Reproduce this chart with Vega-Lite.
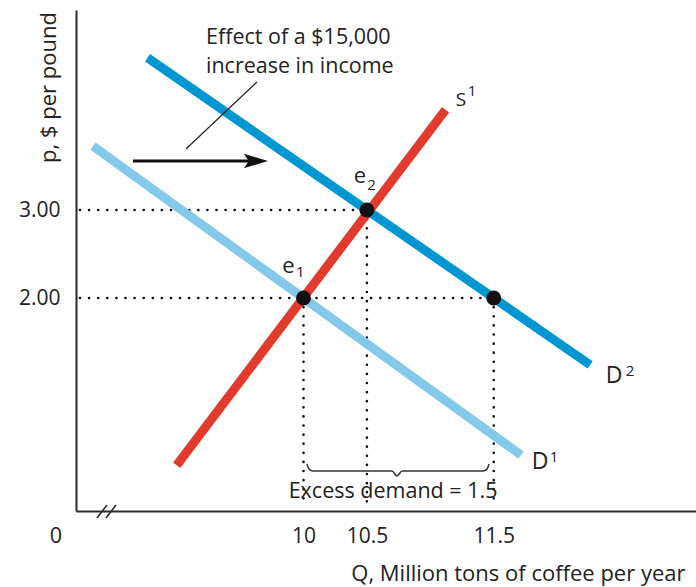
{
  "$schema": "https://vega.github.io/schema/vega-lite/v6.json",
  "width": 620,
  "height": 501,
  "autosize": "none",
  "padding": {"left": 76, "top": 10, "right": 0, "bottom": 76},
  "background": "white",
  "config": {"view": {"stroke": null}, "font": "Open Sans"},
  "datasets": {
    "curves": [
      {"curve": "D2", "Q": 8.77, "p": 4.73},
      {"curve": "D2", "Q": 12.26, "p": 1.24},
      {"curve": "D1", "Q": 8.34, "p": 3.726},
      {"curve": "D1", "Q": 11.715, "p": 0.216},
      {"curve": "S1", "Q": 9.0, "p": 0.1},
      {"curve": "S1", "Q": 11.12, "p": 4.14}
    ],
    "guides": [
      {"Q": 8.237, "p": 3, "Q2": 10.5, "p2": 3},
      {"Q": 8.237, "p": 2, "Q2": 11.5, "p2": 2},
      {"Q": 10, "p": 2, "Q2": 10, "p2": -0.375},
      {"Q": 10.5, "p": 3, "Q2": 10.5, "p2": -0.375},
      {"Q": 11.5, "p": 2, "Q2": 11.5, "p2": -0.375}
    ],
    "dots": [
      {"name": "e1", "Q": 10, "p": 2},
      {"name": "e2", "Q": 10.5, "p": 3},
      {"name": "x", "Q": 11.5, "p": 2}
    ],
    "eLetters": [
      {"text": "e", "Q": 10.4456, "p": 3.386},
      {"text": "e", "Q": 9.882, "p": 2.3636}
    ],
    "sLetter": [
      {"text": "S", "Q": 11.242, "p": 4.25}
    ],
    "dLetters": [
      {"text": "D", "Q": 12.449, "p": 1.1136},
      {"text": "D", "Q": 11.865, "p": 0.1364}
    ],
    "scripts": [
      {"text": "2", "Q": 10.536, "p": 3.284},
      {"text": "1", "Q": 9.974, "p": 2.2955},
      {"text": "1", "Q": 11.329, "p": 4.352},
      {"text": "2", "Q": 12.575, "p": 1.1705},
      {"text": "1", "Q": 11.976, "p": 0.193}
    ],
    "bigText": [
      {"text": "0", "Q": 8.048, "p": -0.716},
      {"text": "Excess demand = 1.5", "Q": 10.706, "p": -0.205}
    ],
    "note": [
      {"text": "Effect of a $15,000", "Q": 9.231, "p": 4.955},
      {"text": "increase in income", "Q": 9.231, "p": 4.625}
    ],
    "pointer": [
      {"Q": 9.633, "p": 4.4545, "Q2": 9.073, "p2": 3.693}
    ],
    "arrow": [
      {"Q": 8.655, "p": 3.557, "Q2": 9.64, "p2": 3.557}
    ],
    "arrowhead": [
      {"Q": 9.625, "p": 3.557}
    ],
    "brace": [
      {"o": 1, "Q": 10.0276, "p": 0.1136},
      {"o": 2, "Q": 10.0434, "p": 0.0568},
      {"o": 3, "Q": 10.0749, "p": 0.0341},
      {"o": 4, "Q": 10.698, "p": 0.0341},
      {"o": 5, "Q": 10.737, "p": -0.0227},
      {"o": 6, "Q": 10.777, "p": 0.0341},
      {"o": 7, "Q": 11.416, "p": 0.0341},
      {"o": 8, "Q": 11.447, "p": 0.0568},
      {"o": 9, "Q": 11.463, "p": 0.1136}
    ],
    "breaks": [
      {"Q": 8.3715, "p": -0.5, "Q2": 8.4503, "p2": -0.352},
      {"Q": 8.4424, "p": -0.5, "Q2": 8.5213, "p2": -0.352}
    ]
  },
  "encoding": {
    "x": {
      "field": "Q", "type": "quantitative",
      "scale": {"domain": [8.206, 13.095], "nice": false, "zero": false},
      "axis": {
        "title": "Q, Million tons of coffee per year",
        "values": [10, 10.5, 11.5],
        "labelExpr": "'' + datum.value",
        "grid": false,
        "ticks": false,
        "domainColor": "#2a2a2a",
        "domainWidth": 2,
        "labelFontSize": 21,
        "labelColor": "#222",
        "labelPadding": 14,
        "labelFont": "Open Sans",
        "titleFont": "Open Sans",
        "titleFontSize": 22,
        "titleFontWeight": "normal",
        "titleColor": "#222",
        "titleAnchor": "end",
        "titleAlign": "right",
        "titleBaseline": "middle",
        "titleX": 609,
        "titleY": 62
      }
    },
    "y": {
      "field": "p", "type": "quantitative",
      "scale": {"domain": [-0.42, 5.273], "nice": false, "zero": false},
      "axis": {
        "title": "p, $ per pound",
        "values": [2, 3],
        "format": ".2f",
        "grid": false,
        "ticks": false,
        "domainColor": "#2a2a2a",
        "domainWidth": 2,
        "labelFontSize": 21,
        "labelColor": "#222",
        "labelPadding": 16,
        "labelFont": "Open Sans",
        "titleFont": "Open Sans",
        "titleFontSize": 22,
        "titleFontWeight": "normal",
        "titleColor": "#222",
        "titleAngle": -90,
        "titleAlign": "center",
        "titleBaseline": "middle",
        "titleX": -28,
        "titleY": 77
      }
    }
  },
  "layer": [
    {
      "data": {"name": "guides"},
      "mark": {"type": "rule", "color": "#111", "strokeWidth": 2.6, "strokeDash": [0.1, 9], "strokeCap": "round"},
      "encoding": {"x2": {"field": "Q2"}, "y2": {"field": "p2"}}
    },
    {
      "data": {"name": "curves"},
      "mark": {"type": "line", "strokeWidth": 9, "strokeCap": "butt"},
      "encoding": {
        "color": {
          "field": "curve", "type": "nominal",
          "scale": {"domain": ["D1", "D2", "S1"], "range": ["#84c9e9", "#0096d2", "#e23b2d"]},
          "legend": null
        },
        "detail": {"field": "curve"}
      }
    },
    {
      "data": {"name": "dots"},
      "mark": {"type": "point", "filled": true, "color": "#111", "size": 220, "opacity": 1, "shape": "circle"}
    },
    {
      "data": {"name": "eLetters"},
      "mark": {"type": "text", "fontSize": 22, "color": "#222", "align": "center", "baseline": "middle", "font": "Open Sans"},
      "encoding": {"text": {"field": "text"}}
    },
    {
      "data": {"name": "sLetter"},
      "mark": {"type": "text", "fontSize": 19, "color": "#222", "align": "center", "baseline": "middle", "font": "Open Sans"},
      "encoding": {"text": {"field": "text"}}
    },
    {
      "data": {"name": "dLetters"},
      "mark": {"type": "text", "fontSize": 23, "color": "#222", "align": "center", "baseline": "middle", "font": "Open Sans"},
      "encoding": {"text": {"field": "text"}}
    },
    {
      "data": {"name": "scripts"},
      "mark": {"type": "text", "fontSize": 15, "color": "#222", "align": "center", "baseline": "middle", "font": "Open Sans"},
      "encoding": {"text": {"field": "text"}}
    },
    {
      "data": {"name": "bigText"},
      "mark": {"type": "text", "fontSize": 21.5, "color": "#222", "align": "center", "baseline": "middle", "font": "Open Sans"},
      "encoding": {"text": {"field": "text"}}
    },
    {
      "data": {"name": "note"},
      "mark": {"type": "text", "fontSize": 21.5, "color": "#222", "align": "left", "baseline": "middle", "font": "Open Sans"},
      "encoding": {"text": {"field": "text"}}
    },
    {
      "data": {"name": "pointer"},
      "mark": {"type": "rule", "color": "#222", "strokeWidth": 1.2},
      "encoding": {"x2": {"field": "Q2"}, "y2": {"field": "p2"}}
    },
    {
      "data": {"name": "arrow"},
      "mark": {"type": "rule", "color": "#111", "strokeWidth": 3},
      "encoding": {"x2": {"field": "Q2"}, "y2": {"field": "p2"}}
    },
    {
      "data": {"name": "arrowhead"},
      "mark": {"type": "point", "filled": true, "color": "#111", "opacity": 1, "size": 576, "shape": "M-1,-0.6L1,0L-1,0.6L-0.6,0Z"}
    },
    {
      "data": {"name": "brace"},
      "mark": {"type": "line", "color": "#333", "strokeWidth": 1.5, "interpolate": "monotone"},
      "encoding": {"order": {"field": "o", "type": "quantitative"}}
    },
    {
      "data": {"name": "breaks"},
      "mark": {"type": "rule", "color": "#2a2a2a", "strokeWidth": 1.6, "clip": false},
      "encoding": {"x2": {"field": "Q2"}, "y2": {"field": "p2"}}
    }
  ]
}
